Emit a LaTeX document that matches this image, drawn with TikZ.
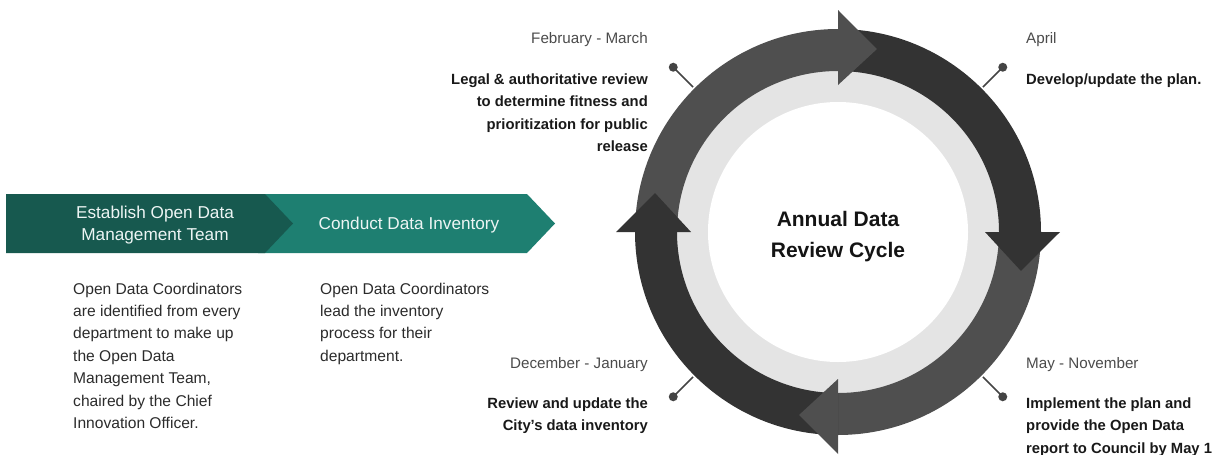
\documentclass[tikz,border=0pt]{standalone}
\usepackage{fontspec}
\setmainfont{Liberation Sans}
\definecolor{tealdark}{HTML}{17594F}
\definecolor{teal}{HTML}{1E7F71}
\definecolor{greymid}{HTML}{4F4F4F}
\definecolor{greydark}{HTML}{333333}
\definecolor{greylight}{HTML}{E4E4E4}
\definecolor{txt}{HTML}{2B2B2B}
\definecolor{pin}{HTML}{444444}
\tikzset{
  chevtext/.style={text=white!92!teal, font=\fontsize{17.2}{22}\selectfont, align=center, inner sep=0pt},
  bodytext/.style={text=txt, font=\fontsize{15.6}{22.4}\selectfont, align=left, inner sep=0pt, anchor=base west},
  datel/.style={text=txt!85, font=\fontsize{15.2}{22.4}\selectfont, inner sep=0pt},
  boldr/.style={text=black!90, font=\bfseries\fontsize{14.8}{22.6}\selectfont, align=right, inner sep=0pt, anchor=base east},
  boldl/.style={text=black!90, font=\bfseries\fontsize{14.8}{22.6}\selectfont, align=left, inner sep=0pt, anchor=base west},
  pinline/.style={draw=pin, line width=1.6pt},
  pindot/.style={fill=pin, circle, inner sep=0pt, minimum size=9pt},
}
\begin{document}
\begin{tikzpicture}[x=1pt,y=-1pt]
\useasboundingbox (0,0) rectangle (1219,455);
% chevrons
\fill[teal] (258,194) -- (527,194) -- (555,223.5) -- (527,253) -- (258,253) -- cycle;
\fill[tealdark] (6,194) -- (265,194) -- (293,223.5) -- (265,253) -- (6,253) -- cycle;
\node[chevtext] (c1) at (155,225) {Establish Open Data\\Management Team};
\node[chevtext] (c2) at (409,225) {Conduct Data Inventory};
% texts below chevrons (anchor = baseline of last line)
\node[bodytext] (t1) at (73,428.4) {Open Data Coordinators\\are identified from every\\department to make up\\the Open Data\\Management Team,\\chaired by the Chief\\Innovation Officer.};
\node[bodytext] (t2) at (320,361.2) {Open Data Coordinators\\lead the inventory\\process for their\\department.};
% ring
\begin{scope}[shift={(838,232)}, y=1pt]
  \fill[greylight] (0,0) circle[radius=162];
  \fill[white] (0,0) circle[radius=130];
  \node[font=\bfseries\fontsize{21}{31}\selectfont, align=center, text=black!92] (title) at (0,-5) {Annual Data\\Review Cycle};
  % bodies
  \fill[greymid] (180:203) arc[start angle=180,end angle=90,radius=203] -- (90:161) arc[start angle=90,end angle=180,radius=161] -- cycle;
  \fill[greydark] (90:203) arc[start angle=90,end angle=0,radius=203] -- (0:161) arc[start angle=0,end angle=90,radius=161] -- cycle;
  \fill[greymid] (0:203) arc[start angle=0,end angle=-90,radius=203] -- (-90:161) arc[start angle=-90,end angle=0,radius=161] -- cycle;
  \fill[greydark] (-90:203) arc[start angle=-90,end angle=-180,radius=203] -- (-180:161) arc[start angle=-180,end angle=-90,radius=161] -- cycle;
  % heads
  \fill[greymid] (90:222) -- (78:187) -- (90:147) -- cycle;
  \fill[greydark] (0:222) -- (-12:187) -- (0:147) -- cycle;
  \fill[greymid] (-90:222) -- (-102:187) -- (-90:147) -- cycle;
  \fill[greydark] (180:222) -- (168:187) -- (180:147) -- cycle;
  % pins
  \coordinate (p1) at (135:205); \coordinate (q1) at (135:233);
  \coordinate (p2) at (45:205);  \coordinate (q2) at (45:233);
  \coordinate (p3) at (-45:205); \coordinate (q3) at (-45:233);
  \coordinate (p4) at (-135:205);\coordinate (q4) at (-135:233);
  \node[pindot] (d1) at (q1) {};
  \node[pindot] (d2) at (q2) {};
  \node[pindot] (d3) at (q3) {};
  \node[pindot] (d4) at (q4) {};
  \draw[pinline] (p1) -- (d1.center);
  \draw[pinline] (p2) -- (d2.center);
  \draw[pinline] (p3) -- (d3.center);
  \draw[pinline] (p4) -- (d4.center);
\end{scope}
% labels (multi-line: anchor = baseline of last line)
\node[datel, anchor=base east] (fm) at (648,43) {February - March};
\node[boldr] (fmt) at (648,151.8) {Legal \& authoritative review\\to determine fitness and\\prioritization for public\\release};
\node[datel, anchor=base west] (ap) at (1026,43) {April};
\node[boldl] (apt) at (1026,84) {Develop/update the plan.};
\node[datel, anchor=base west] (mn) at (1026,368) {May - November};
\node[boldl] (mnt) at (1026,453.2) {Implement the plan and\\provide the Open Data\\report to Council by May 1};
\node[datel, anchor=base east] (dj) at (648,368) {December - January};
\node[boldr] (djt) at (648,430.6) {Review and update the\\City’s data inventory};
\end{tikzpicture}
\end{document}
